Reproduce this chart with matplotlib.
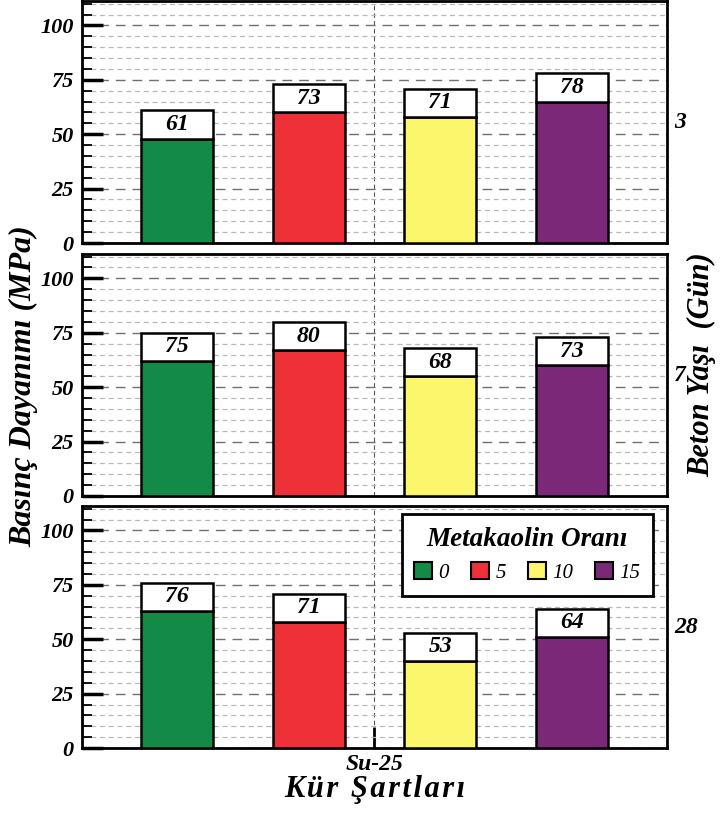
import matplotlib
matplotlib.use("Agg")
import matplotlib.pyplot as plt
from matplotlib.patches import Patch
from matplotlib.ticker import MultipleLocator
import numpy as np

plt.rcParams['font.family'] = ['Liberation Serif', 'DejaVu Serif']

# compressive strength (MPa) by age (days) and metakaolin ratio (%)
ages = ['3', '7', '28']
ratios = ['0', '5', '10', '15']
strength_3 = [61, 73, 71, 78]
strength_7 = [75, 80, 68, 73]
strength_28 = [76, 71, 53, 64]
curing = 'Su-25'

colors = ['#138a45', '#ee3038', '#fbf66c', '#7c2879']
label_h = 13          # height of the white value box on top of each bar
offsets = np.array([-0.675, -0.225, 0.225, 0.675])
bar_w = 0.246

fig = plt.figure(figsize=(7.26, 8.16), dpi=100)
panels = [
    (0.7022, strength_3, ages[0]),
    (0.3922, strength_7, ages[1]),
    (0.0833, strength_28, ages[2]),
]

axes = []
for bottom, vals, age in panels:
    ax = fig.add_axes([0.1129, bottom, 0.8058, 0.2960])
    vals = np.array(vals, dtype=float)
    ax.bar(offsets, vals - label_h, width=bar_w, color=colors,
           edgecolor='black', linewidth=1.8, zorder=3)
    ax.bar(offsets, np.full(4, label_h), bottom=vals - label_h, width=bar_w,
           color='white', edgecolor='black', linewidth=1.8, zorder=3)
    for x, v in zip(offsets, vals):
        ax.text(x, v - label_h / 2, f'{int(v)}', ha='center', va='center',
                fontsize=17, fontweight='bold', fontstyle='italic', zorder=4)

    ax.set_xlim(-1, 1)
    ax.set_ylim(0, 111)
    ax.yaxis.set_major_locator(MultipleLocator(25))
    ax.yaxis.set_minor_locator(MultipleLocator(5))
    ax.set_xticks([0])
    ax.set_xticklabels([])
    ax.grid(which='minor', axis='y', color='#b8b8b8', linestyle=(0, (4, 3)), lw=0.9, zorder=0)
    ax.grid(which='major', axis='y', color='#707070', linestyle=(0, (7, 5)), lw=1.0, zorder=1)
    ax.grid(which='major', axis='x', color='#555555', linestyle=(0, (4, 3)), lw=0.8, zorder=1)
    ax.tick_params(axis='y', which='major', direction='in', length=15, width=2.5,
                   labelsize=16, pad=6)
    ax.tick_params(axis='y', which='minor', direction='in', length=7, width=1.3)
    ax.tick_params(axis='x', which='major', direction='in', length=0, width=2)
    for lab in ax.get_yticklabels():
        lab.set_fontweight('bold')
        lab.set_fontstyle('italic')
    for s in ax.spines.values():
        s.set_linewidth(2)
    ax.text(1.012, 0.5, age, transform=ax.transAxes, ha='left', va='center',
            fontsize=17, fontweight='bold', fontstyle='italic')
    axes.append(ax)

ax = axes[-1]
ax.tick_params(axis='x', which='major', length=15, width=2)
ax.set_xticklabels([curing], fontsize=17, fontweight='bold', fontstyle='italic')
ax.tick_params(axis='x', pad=4)
ax.set_xlabel('\u200a'.join('Kür Şartları'),
              fontsize=22, fontweight='bold', fontstyle='italic', labelpad=0)

handles = [Patch(facecolor=c, edgecolor='black', linewidth=1.5) for c in colors]
leg = ax.legend(handles, ratios, ncol=4, loc='upper right', bbox_to_anchor=(0.976, 0.967),
                borderaxespad=0, title='Metakaolin Oranı', fancybox=False, framealpha=1,
                edgecolor='black', handlelength=0.87, handleheight=0.87,
                handletextpad=0.3, columnspacing=1.05, borderpad=0.6,
                prop={'style': 'italic', 'size': 15})
leg.get_title().set_fontsize(19.5)
leg.get_title().set_fontweight('bold')
leg.get_title().set_fontstyle('italic')
leg.get_frame().set_linewidth(2)
leg.set_zorder(5)

fig.text(0.033, 0.527, 'Basınç Dayanımı (MPa)', rotation=90, ha='center', va='center',
         fontsize=23, fontweight='bold', fontstyle='italic')
fig.text(0.967, 0.553, 'Beton Yaşı  (Gün)', rotation=90, ha='center', va='center',
         fontsize=22, fontweight='bold', fontstyle='italic')

fig.savefig('out.png', dpi=100, facecolor='white')
